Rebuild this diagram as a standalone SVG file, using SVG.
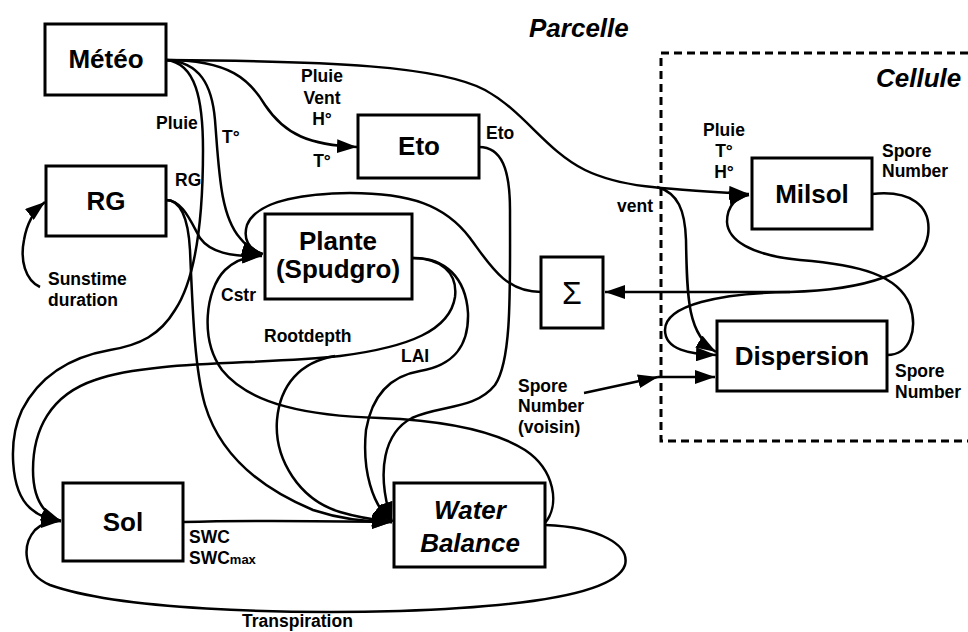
<svg xmlns="http://www.w3.org/2000/svg" width="968" height="632" viewBox="0 0 968 632">
<style>
.box{fill:#fff;stroke:#000;stroke-width:3}
.c{fill:none;stroke:#000;stroke-width:2.5}
.a{marker-end:url(#arr)}
.t{font-family:"Liberation Sans",Arial,sans-serif;font-weight:bold;font-size:26px;text-anchor:middle;fill:#000}
.ti{font-style:italic}
.l{font-family:"Liberation Sans",Arial,sans-serif;font-weight:bold;font-size:17.5px;fill:#000}
.m{text-anchor:middle}
.h{font-family:"Liberation Sans",Arial,sans-serif;font-weight:bold;font-style:italic;font-size:26px;fill:#000}
</style>
<defs>
<marker id="arr" markerUnits="userSpaceOnUse" markerWidth="20" markerHeight="14" refX="20" refY="7" orient="auto">
<path d="M0,0 L20,7 L0,14 z" fill="#000"/>
</marker>
</defs>
<rect width="968" height="632" fill="#fff"/>
<rect x="661" y="53" width="340" height="388" fill="none" stroke="#000" stroke-width="3" stroke-dasharray="8 5"/>
<text class="h" x="529" y="37">Parcelle</text>
<text class="h" x="876" y="87">Cellule</text>
<g id="connectors">
<path class="c a" d="M166,60 C330,61 440,66 485,90 C525,112 545,150 585,170 C620,187 660,189 749,194"/>
<path class="c a" d="M657,187 C678,193 685,210 686,240 C687,300 688,335 716,352"/>
<path class="c a" d="M166,60 C230,60 250,80 265,105 C285,135 310,145 357,147"/>
<path class="c a" d="M166,60 C200,62 212,85 215,120 C219,170 220,215 240,238 C248,248 255,252 262,254"/>
<path class="c a" d="M166,60 C196,63 203,100 203,150 C203,220 195,280 175,310 C160,335 140,345 110,350 C70,357 40,375 22,410 C8,440 10,490 30,508 C40,517 50,520 61,521"/>
<path class="c a" d="M166,200 C182,200 190,220 200,238 C210,252 230,257 262,256"/>
<path class="c a" d="M166,200 C180,200 188,215 190,250 C193,320 195,370 205,405 C220,455 260,488 313,510 C340,519 365,522 392,522"/>
<path class="c a" d="M40,287 C25,280 20,260 24,240 C27,222 35,210 45,202"/>
<path class="c a" d="M479,147 C502,147 510,170 510,210 C510,290 512,360 495,385 C475,410 440,405 412,418 C385,432 375,470 392,522"/>
<path class="c a" d="M412,258 C440,258 458,272 455,297 C450,330 410,347 340,356 C260,365 150,360 95,380 C50,395 33,430 33,470 C33,500 45,515 61,521"/>
<path class="c a" d="M335,356 C300,362 280,385 277,420 C274,460 300,500 340,512 C360,518 375,520 392,522"/>
<path class="c a" d="M412,258 C445,257 466,278 468,313 C469,345 455,365 420,371 C390,376 372,395 366,430 C362,470 372,505 392,522"/>
<path class="c a" d="M545,523 C560,505 555,470 525,450 C490,428 430,420 380,418 C310,416 250,405 222,370 C200,340 205,290 225,270 C235,260 248,256 262,255"/>
<path class="c a" d="M541,292 C505,292 490,265 470,238 C445,205 410,193 350,193 C290,194 255,205 247,225 C243,238 248,250 263,254"/>
<path class="c a" d="M183,522 C250,520 330,521 392,522"/>
<path class="c a" d="M545,525 C600,527 630,545 625,565 C615,595 520,607 400,611 C280,614 120,610 50,585 C22,573 22,545 35,530 C42,523 50,521 61,521"/>
<path class="c a" d="M872,194 C910,190 932,205 928,235 C922,275 860,290 790,292 L605,292"/>
<path class="c a" d="M790,292 C720,293 665,305 665,330 C665,350 690,354 716,355"/>
<path class="c a" d="M887,355 C910,355 918,330 910,305 C898,275 860,265 800,260 C750,255 728,240 727,222 C727,205 737,197 749,195"/>
<path class="c a" d="M584,393 L658,377"/>
<path class="c a" d="M658,377 L715,377"/>
</g>
<g id="meteo"><rect class="box" x="45" y="24" width="121" height="71"/><text class="t" x="106" y="68">Météo</text></g>
<g id="rg"><rect class="box" x="46" y="166" width="120" height="70"/><text class="t" x="106" y="210">RG</text></g>
<g id="eto"><rect class="box" x="358" y="115" width="121" height="63"/><text class="t" x="419" y="155">Eto</text></g>
<g id="plante"><rect class="box" x="265" y="214" width="147" height="85"/><text class="t" x="338" y="250">Plante</text><text class="t" x="338" y="278">(Spudgro)</text></g>
<g id="sigma"><rect class="box" x="541" y="257" width="62" height="71"/><text x="572" y="304" font-family="Liberation Sans, Arial, sans-serif" font-size="32" text-anchor="middle">Σ</text></g>
<g id="milsol"><rect class="box" x="752" y="158" width="120" height="71"/><text class="t" x="812" y="203">Milsol</text></g>
<g id="dispersion"><rect class="box" x="717" y="321" width="170" height="70"/><text class="t" x="802" y="365">Dispersion</text></g>
<g id="sol"><rect class="box" x="63" y="483" width="120" height="78"/><text class="t" x="123" y="531">Sol</text></g>
<g id="waterbalance"><rect class="box" x="394" y="483" width="151" height="84"/><text class="t ti" x="470" y="519">Water</text><text class="t ti" x="470" y="552">Balance</text></g>
<g id="labels">
<text class="l" x="156" y="129">Pluie</text>
<text class="l" x="222" y="143">T°</text>
<text class="l" x="175" y="186">RG</text>
<text class="l m" x="322" y="82">Pluie</text>
<text class="l m" x="322" y="104">Vent</text>
<text class="l m" x="322" y="125">H°</text>
<text class="l m" x="322" y="167">T°</text>
<text class="l" x="486" y="139">Eto</text>
<text class="l" x="617" y="212">vent</text>
<text class="l m" x="724" y="136">Pluie</text>
<text class="l m" x="724" y="157">T°</text>
<text class="l m" x="724" y="178">H°</text>
<text class="l" x="882" y="157">Spore</text>
<text class="l" x="882" y="177">Number</text>
<text class="l" x="895" y="377">Spore</text>
<text class="l" x="895" y="398">Number</text>
<text class="l" x="518" y="392">Spore</text>
<text class="l" x="518" y="412">Number</text>
<text class="l" x="518" y="433">(voisin)</text>
<text class="l" x="48" y="285">Sunstime</text>
<text class="l" x="48" y="306">duration</text>
<text class="l" x="221" y="301">Cstr</text>
<text class="l" x="264" y="342">Rootdepth</text>
<text class="l" x="401" y="362">LAI</text>
<text class="l" x="189" y="543">SWC</text>
<text class="l" x="189" y="564">SWC<tspan font-size="13px">max</tspan></text>
<text class="l" x="242" y="627">Transpiration</text>
</g>
</svg>
